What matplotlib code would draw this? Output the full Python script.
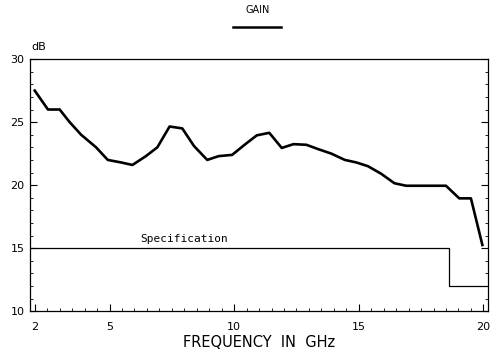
import matplotlib
matplotlib.use('Agg')
from matplotlib import pyplot as plt
from matplotlib.lines import Line2D
import numpy as np

# gain curve
freq_ghz = [2.0, 2.53, 3.0, 3.4, 3.86, 4.46, 4.93, 5.46, 5.92, 6.46, 6.92, 7.41, 7.92, 8.39,
            8.92, 9.38, 9.92, 10.45, 10.91, 11.41, 11.91, 12.38, 12.9, 13.38, 13.9, 14.44,
            14.9, 15.37, 15.9, 16.43, 16.9, 18.5, 19.03, 19.5, 19.96]
gain_db = [27.5, 26.0, 26.0, 25.0, 24.0, 23.0, 22.0, 21.8, 21.6, 22.3, 23.0, 24.65, 24.5, 23.1,
           22.0, 22.3, 22.4, 23.25, 23.95, 24.15, 22.95, 23.25, 23.2, 22.85, 22.5, 22.0,
           21.8, 21.5, 20.9, 20.15, 19.95, 19.95, 18.95, 18.95, 15.25]

# specification mask
spec_freq = [1.8, 18.63, 18.63, 20.2]
spec_db = [15.0, 15.0, 12.0, 12.0]

xticks = [2, 5, 10, 15, 20]
yticks = [10, 15, 20, 25, 30]

fig = plt.figure(figsize=(4.95, 3.56), dpi=100)
ax = fig.add_axes([0.0606, 0.126, 0.925, 0.708])

ax.plot(freq_ghz, gain_db, color='black', lw=1.9)
ax.plot(spec_freq, spec_db, color='black', lw=0.9)
ax.text(8.0, 15.3, 'Specification', family='DejaVu Sans Mono', fontsize=8,
        ha='center', va='bottom')

ax.set_xlim(1.81, 20.18)
ax.set_ylim(10, 30)
ax.set_xticks(xticks)
ax.set_yticks(yticks)
ax.set_xticks(np.arange(2, 20.01, 0.5), minor=True)
ax.set_yticks(np.arange(10, 30.01, 1), minor=True)
ax.tick_params(which='both', direction='in', top=False, right=True, labelsize=8)
ax.tick_params(axis='x', which='major', length=5, width=0.8, pad=8)
ax.tick_params(axis='y', which='major', length=5, width=0.8, pad=4)
ax.tick_params(which='minor', length=2.5, width=0.6)
for s in ax.spines.values():
    s.set_linewidth(0.9)

ax.set_xlabel('FREQUENCY  IN  GHz', fontsize=10.5, labelpad=2)
fig.text(0.063, 0.853, 'dB', fontsize=8, ha='left', va='bottom')

# legend at the top
fig.text(0.52, 0.972, 'GAIN', fontsize=7, ha='center', va='center')
fig.add_artist(Line2D([0.471, 0.568], [0.924, 0.924], color='black', lw=1.8,
                      transform=fig.transFigure))

fig.savefig('out.png', dpi=100)
